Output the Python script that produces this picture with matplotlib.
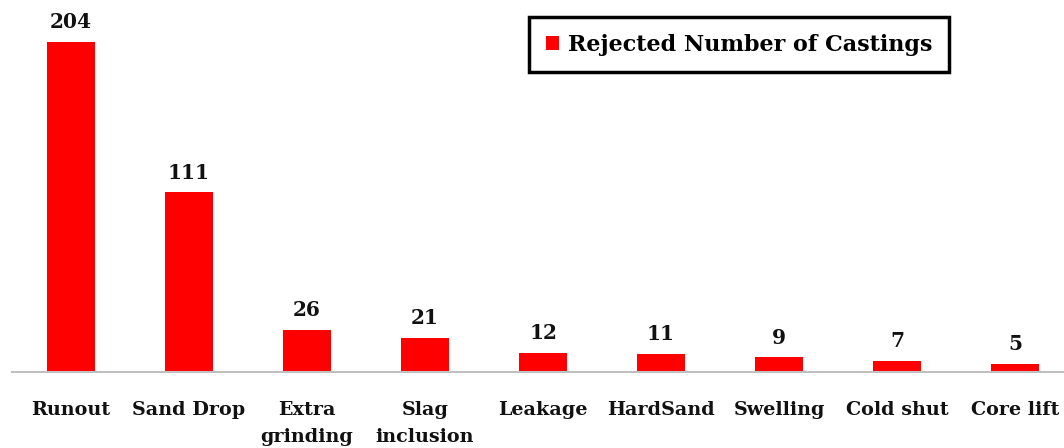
import matplotlib
matplotlib.use("Agg")
import matplotlib.pyplot as plt

categories = ["Runout", "Sand Drop", "Extra\ngrinding", "Slag\ninclusion", "Leakage",
              "HardSand", "Swelling", "Cold shut", "Core lift"]
values = [204, 111, 26, 21, 12, 11, 9, 7, 5]
series_name = "Rejected Number of Castings"

plt.rcParams['font.family'] = ['DejaVu Serif']
plt.rcParams['font.weight'] = 'bold'

fig = plt.figure(figsize=(10.64, 4.48), dpi=100)
ax = fig.add_axes([12/1064, (448-372)/448, 1 - 12/1064, 372/448])
x = list(range(len(categories)))
bars = ax.bar(x, values, width=0.4, color="#ff0000", label=series_name, zorder=2)
ax.set_xlim(-0.5, 8.415)
ax.set_ylim(0, 230)
for xi, v in zip(x, values):
    ax.annotate(str(v), (xi, v), xytext=(0, 7), textcoords="offset points",
                ha="center", va="bottom", fontsize=14.5, fontweight="bold", color="#111111")
ax.set_xticks(x)
ax.set_xticklabels(categories, fontsize=13.8, fontweight="bold", color="#111111", linespacing=1.6)
ax.tick_params(axis="x", length=0, pad=21)
ax.set_yticks([])
for s in ["top", "right", "left"]:
    ax.spines[s].set_visible(False)
ax.spines["bottom"].set_color("#c0c0c0")
ax.spines["bottom"].set_linewidth(1.5)
leg = ax.legend(loc="upper left", bbox_to_anchor=(529/1064, 1 - 17/448), bbox_transform=fig.transFigure,
                frameon=True, fancybox=False, handlelength=0.6, handleheight=0.6,
                handletextpad=0.4, borderpad=0.75, borderaxespad=0,
                prop={'weight': 'bold', 'size': 16.0})
leg.get_frame().set_edgecolor("black")
leg.get_frame().set_linewidth(2.5)
leg.get_frame().set_alpha(1)
fig.savefig("out.png", dpi=100)
